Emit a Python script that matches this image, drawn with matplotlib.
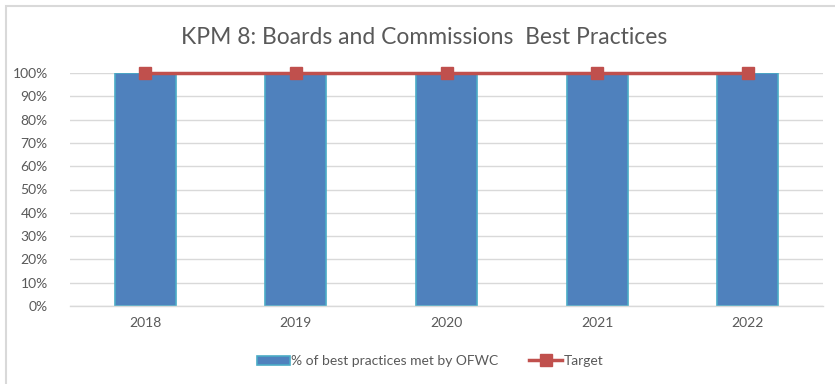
import matplotlib
matplotlib.use("Agg")
import matplotlib.pyplot as plt
from matplotlib.lines import Line2D
from matplotlib.patches import Rectangle
from matplotlib.ticker import PercentFormatter

years = ["2018", "2019", "2020", "2021", "2022"]
met_pct = [100, 100, 100, 100, 100]
target_pct = [100, 100, 100, 100, 100]
y_ticks = [0, 10, 20, 30, 40, 50, 60, 70, 80, 90, 100]

plt.rcParams["font.family"] = ["Lato", "DejaVu Sans"]
text_gray = "#595959"
grid_gray = "#D9D9D9"
bar_blue = "#4F81BD"
bar_edge = "#4BACC6"
line_red = "#C0504D"

fig = plt.figure(figsize=(8.35, 3.84), dpi=100)
fig.patch.set_facecolor("white")

# chart frame (top and left edges)
frame = Rectangle((6 / 835, -0.1), 1.2, 1 - 6 / 384 + 0.1, transform=fig.transFigure,
                  fill=False, edgecolor="#D9D9D9", linewidth=1.5)
fig.patches.append(frame)

ax = fig.add_axes([70 / 835, 1 - 306 / 384, (823 - 70) / 835, (306 - 73) / 384])
x = list(range(len(years)))
ax.bar(x, met_pct, width=0.405, color=bar_blue, edgecolor=bar_edge, linewidth=1.2,
       zorder=2, label="% of best practices met by OFWC")
ax.plot(x, target_pct, color=line_red, linewidth=2.5, marker="s", markersize=9,
        zorder=3, clip_on=False, label="Target")

ax.set_xlim(-0.5, len(years) - 0.5)
ax.set_ylim(0, 100)
ax.set_yticks(y_ticks)
ax.yaxis.set_major_formatter(PercentFormatter(decimals=0))
ax.set_xticks(x)
ax.set_xticklabels(years)
ax.tick_params(axis="both", length=0, colors=text_gray, labelsize=10)
ax.tick_params(axis="y", pad=16)
ax.tick_params(axis="x", pad=8)
ax.grid(axis="y", color=grid_gray, linewidth=1, zorder=0)
ax.set_axisbelow(True)
for side in ["top", "right", "left"]:
    ax.spines[side].set_visible(False)
ax.spines["bottom"].set_color(grid_gray)
ax.spines["bottom"].set_linewidth(1)

fig.text(0.508, 1 - 37 / 384, "KPM 8: Boards and Commissions  Best Practices",
         ha="center", va="center", fontsize=16.5, color=text_gray, fontweight="normal")

handles = [Rectangle((0, 0), 1, 1, facecolor=bar_blue, edgecolor=bar_edge, linewidth=1.2),
           Line2D([0], [0], color=line_red, linewidth=2.5, marker="s", markersize=8)]
fig.legend(handles, ["% of best practices met by OFWC", "Target"],
           loc="center", bbox_to_anchor=(0.515, 1 - 361 / 384), ncol=2, frameon=False,
           fontsize=10, labelcolor=text_gray, handlelength=2.4, handletextpad=0.1,
           columnspacing=2.2, handleheight=0.6)

fig.savefig("out.png", dpi=100, facecolor="white")
